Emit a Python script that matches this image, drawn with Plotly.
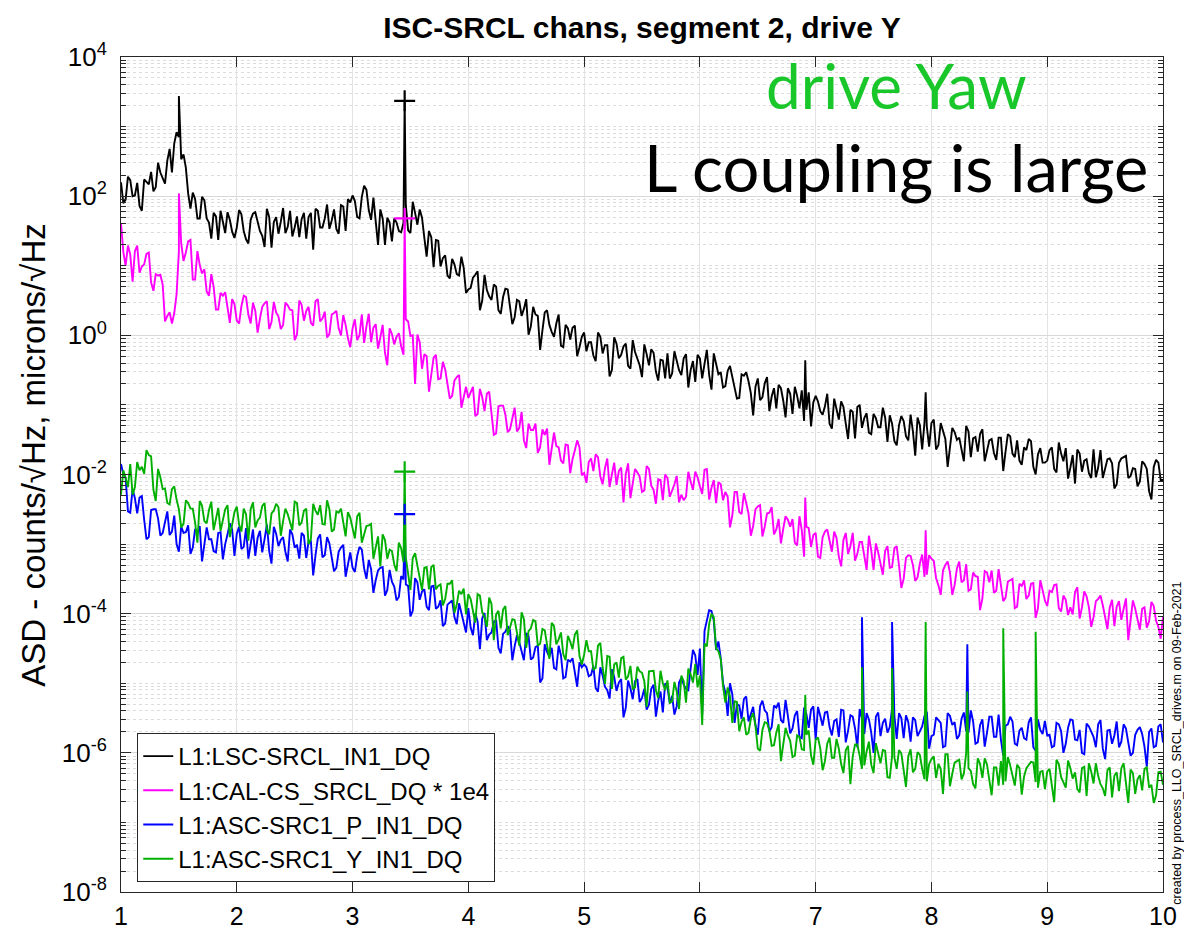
import numpy as np
import plotly.graph_objects as go

# frequency grids (Hz): main points every 0.04 Hz and in-between points
freq = np.round(np.arange(0, 226) * 0.04 + 1.0, 2)
freq_mid = np.round(np.arange(0, 225) * 0.04 + 1.02, 2)

# log10 ASD values (one row per Hz)
black_log = [
    2.20,1.95,2.23,2.01,1.86,2.24,2.17,2.07,2.48,2.27,2.51,2.34,2.92,2.53,2.41,1.82,1.96,1.68,1.94,1.62,1.76,1.37,1.65,1.77,1.49,
    1.55,1.74,1.38,1.66,1.77,1.50,1.27,1.70,1.63,1.46,1.83,1.56,1.42,1.71,1.67,1.39,1.76,1.82,1.55,1.68,1.53,1.81,1.46,1.85,1.96,
    2.01,1.70,1.99,2.09,1.66,1.68,1.81,1.30,1.62,1.68,1.50,1.62,1.51,1.92,1.59,1.69,1.13,1.41,1.37,0.99,1.15,0.82,1.02,0.86,0.97,
    0.66,0.83,0.92,0.50,0.65,0.51,0.70,0.31,0.67,0.43,0.26,0.49,0.38,0.01,0.41,0.28,0.07,0.36,0.05,0.17,-0.15,0.15,-0.06,0.14,-0.17,
    0.04,-0.10,-0.29,0.04,-0.26,-0.14,-0.50,-0.12,-0.28,-0.12,-0.48,-0.24,-0.43,-0.13,-0.43,-0.25,-0.65,-0.36,-0.26,-0.55,-0.35,-0.57,-0.27,-0.50,-0.67,
    -0.33,-0.41,-0.57,-0.26,-0.56,-0.75,-0.51,-0.59,-0.91,-0.56,-0.53,-0.83,-0.74,-0.93,-0.69,-1.09,-0.76,-0.71,-0.94,-0.76,-1.13,-0.87,-0.79,-1.07,-1.31,
    -0.87,-1.09,-1.02,-1.27,-0.91,-1.21,-1.03,-1.49,-1.10,-1.03,-1.33,-1.12,-1.42,-1.19,-1.32,-1.18,-1.15,-1.52,-1.29,-1.23,-1.51,-1.38,-1.18,-1.64,-1.31,
    -1.26,-1.64,-1.26,-1.49,-1.64,-1.39,-1.47,-1.81,-1.38,-1.48,-1.67,-1.35,-1.64,-1.49,-1.79,-1.47,-1.67,-1.45,-1.75,-1.80,-1.61,-1.49,-1.89,-1.71,-1.83,
    -1.80,-1.61,-1.97,-1.70,-1.62,-1.90,-2.13,-1.70,-1.80,-1.98,-1.64,-1.90,-2.05,-1.78,-1.84,-2.14,-1.77,-1.73,-2.02,-1.92,-2.10,-1.85,-2.24,-1.89,-1.83,-2.08,
]
black_mid = [
    1.90,2.28,2.00,2.19,1.79,2.20,2.35,2.13,2.34,2.18,2.68,2.76,2.85,2.60,2.04,2.05,1.68,1.99,1.68,1.39,1.71,1.79,1.47,1.66,1.40,
    1.80,1.50,1.32,1.75,1.64,1.43,1.82,1.26,1.70,1.63,1.47,1.79,1.55,1.41,1.76,1.70,1.23,1.79,1.55,1.88,1.65,1.53,1.87,1.50,1.91,
    1.93,1.68,2.15,1.80,1.98,1.30,1.68,1.69,1.35,1.62,1.48,1.87,1.47,1.76,1.81,1.40,1.50,0.98,1.36,1.11,0.86,1.10,0.88,1.13,0.61,
    0.68,0.87,0.36,0.87,0.56,0.73,0.36,0.55,0.66,0.16,0.51,0.28,0.52,0.13,0.30,-0.21,0.33,0.15,-0.02,0.30,-0.17,0.10,0.11,-0.30,-0.02,
    -0.23,-0.10,-0.37,-0.02,-0.14,-0.59,-0.03,-0.33,-0.16,-0.44,-0.07,-0.35,-0.60,-0.27,-0.20,-0.52,-0.35,-0.62,-0.62,-0.23,-0.50,-0.33,-0.75,-0.37,-0.28,
    -0.62,-0.21,-0.78,-0.40,-0.53,-0.73,-0.44,-0.72,-0.90,-0.58,-0.66,-1.15,-0.62,-0.89,-0.60,-0.88,-1.05,-0.76,-1.18,-0.84,-0.74,-1.05,-1.23,-0.82,-0.96,
    -0.95,-1.14,-0.84,-1.34,-1.06,-0.95,-1.27,-1.07,-1.48,-1.00,-1.19,-1.40,-1.13,-1.32,-1.04,-1.53,-1.27,-1.58,-1.16,-1.45,-1.14,-1.73,-1.29,-1.25,-1.60,
    -1.21,-1.58,-1.39,-1.89,-1.33,-1.50,-1.64,-1.30,-1.75,-1.46,-1.42,-1.81,-1.51,-1.69,-1.47,-1.95,-1.42,-1.70,-1.51,-1.86,-1.65,-1.52,-2.00,-1.62,-1.83,
    -1.65,-1.92,-1.54,-1.81,-2.06,-1.72,-1.64,-1.96,-1.78,-2.05,-2.04,-1.65,-1.93,-1.77,-2.20,-1.83,-1.75,-2.05,-1.91,-2.17,-1.81,-1.92,-2.36,-1.79,-2.08,
]
magenta_log = [
    1.61,1.00,1.16,1.21,0.90,1.02,1.19,0.64,0.86,0.73,0.28,0.17,0.59,1.32,1.19,1.37,0.80,1.01,0.95,0.57,0.70,0.37,0.57,0.41,0.52,
    0.21,0.42,0.55,0.17,0.35,0.24,0.46,0.09,0.48,0.27,0.15,0.43,0.36,0.01,0.44,0.35,0.18,0.49,0.20,0.34,0.02,0.32,0.10,0.29,-0.04,
    0.10,-0.07,0.30,0.13,-0.10,0.16,-0.03,-0.25,0.10,-0.13,0.03,-0.28,0.20,0.00,0.01,-0.48,-0.30,-0.54,-0.28,-0.62,-0.49,-0.91,-0.65,-0.57,-0.89,
    -0.90,-0.74,-1.13,-0.89,-0.84,-1.15,-1.41,-1.01,-1.14,-1.35,-1.04,-1.33,-1.51,-1.27,-1.36,-1.69,-1.35,-1.34,-1.66,-1.59,-1.80,-1.57,-1.98,-1.65,-1.61,
    -1.98,-1.82,-1.95,-1.75,-2.14,-1.77,-2.00,-2.15,-1.90,-1.99,-2.34,-1.92,-2.03,-2.23,-1.92,-2.22,-2.07,-2.37,-2.05,-2.24,-2.02,-2.29,-2.32,-2.10,-1.96,
    -2.17,-1.93,-2.36,-2.08,-2.11,-2.37,-2.32,-2.59,-2.25,-2.57,-2.41,-2.88,-2.50,-2.44,-2.75,-2.55,-2.86,-2.64,-2.78,-2.65,-2.64,-3.02,-2.80,-2.75,-3.04,
    -2.84,-3.20,-2.82,-2.98,-2.82,-3.18,-2.94,-3.14,-2.84,-3.14,-2.97,-3.37,-3.09,-2.99,-3.29,-3.10,-3.34,-3.06,-3.31,-3.50,-3.16,-3.30,-3.48,-3.15,-3.44,
    -3.21,-3.49,-3.73,-3.30,-3.41,-3.59,-3.25,-3.52,-3.67,-3.41,-3.47,-3.78,-3.41,-3.38,-3.67,-3.58,-3.77,-3.52,-3.92,-3.57,-3.52,-3.74,-3.56,-3.92,-3.66,
    -3.89,-3.69,-3.58,-3.97,-3.80,-3.91,-3.69,-4.07,-3.68,-3.91,-4.05,-3.79,-3.88,-4.22,-3.80,-3.90,-4.09,-3.78,-4.07,-3.93,-4.23,-3.91,-4.11,-3.89,-4.19,-4.05,
]
magenta_mid = [
    1.20,1.29,0.77,1.29,0.99,1.17,0.76,0.88,0.87,0.20,0.33,0.32,1.20,1.07,1.35,0.80,1.21,0.89,0.63,0.88,0.37,0.61,0.62,0.18,0.45,
    0.17,0.57,0.30,0.47,0.04,0.41,0.49,0.19,0.33,0.09,0.47,0.37,-0.07,0.50,0.21,0.41,0.14,0.52,0.24,-0.03,0.30,0.35,0.00,0.15,-0.17,
    0.23,0.00,-0.11,0.31,0.11,-0.19,0.15,-0.43,0.02,-0.02,-0.16,0.23,-0.01,-0.70,-0.10,-0.27,-0.81,-0.32,-0.63,-0.38,-0.68,-0.87,-0.60,-1.04,-0.74,
    -0.82,-1.16,-0.77,-1.09,-0.81,-1.43,-1.02,-1.01,-1.39,-1.17,-1.38,-1.10,-1.62,-1.36,-1.27,-1.61,-1.43,-1.86,-1.40,-1.61,-1.84,-1.58,-1.78,-1.51,-2.01,
    -2.12,-1.77,-1.71,-2.03,-1.91,-2.18,-1.83,-1.95,-2.40,-1.84,-2.14,-1.97,-2.25,-1.88,-2.16,-2.42,-2.08,-2.00,-2.32,-2.14,-2.40,-2.37,-1.96,-2.22,-2.04,
    -2.28,-1.92,-2.19,-2.41,-2.14,-2.25,-2.76,-2.25,-2.54,-2.27,-2.56,-2.74,-2.46,-2.89,-2.56,-2.47,-2.79,-2.99,-2.60,-2.75,-2.98,-2.60,-3.18,-2.77,-2.87,
    -3.18,-2.90,-2.79,-3.11,-2.91,-3.32,-2.84,-3.03,-3.24,-2.97,-3.16,-2.88,-3.37,-3.12,-3.44,-3.03,-3.33,-3.03,-3.63,-3.20,-3.17,-3.53,-3.28,-3.47,-3.16,
    -3.24,-3.59,-3.38,-3.25,-3.73,-3.35,-3.55,-3.29,-3.65,-3.46,-3.95,-3.39,-3.55,-3.70,-3.36,-3.82,-3.54,-3.50,-3.90,-3.60,-3.79,-3.57,-4.06,-3.52,-3.81,
    -3.67,-3.59,-3.92,-3.74,-4.02,-4.01,-3.62,-3.91,-3.75,-4.19,-3.82,-3.74,-4.05,-3.91,-4.18,-3.82,-3.93,-4.38,-3.81,-4.11,-3.93,-4.20,-3.83,-4.10,-4.36,
]
blue_log = [
    -1.85,-2.05,-2.55,-2.34,-2.33,-2.65,-2.90,-2.50,-2.63,-2.84,-2.53,-2.82,-3.00,-2.75,-2.83,-3.14,-2.78,-2.74,-3.03,-2.93,-3.10,-2.84,-3.22,-2.86,-2.79,
    -2.85,-3.07,-2.77,-3.00,-3.17,-2.81,-2.93,-3.10,-2.75,-3.03,-2.90,-3.25,-2.86,-3.01,-2.84,-3.20,-2.96,-3.16,-2.86,-3.16,-2.99,-3.39,-3.11,-3.01,-3.30,
    -3.34,-3.17,-3.08,-3.50,-3.36,-3.52,-3.34,-3.74,-3.37,-3.61,-3.76,-3.51,-3.60,-3.96,-3.55,-3.68,-3.90,-3.61,-3.93,-3.81,-4.14,-3.84,-4.05,-3.85,-4.16,
    -3.92,-4.31,-4.11,-4.07,-4.38,-4.27,-4.09,-4.57,-4.26,-4.24,-4.47,-4.41,-4.67,-4.32,-4.63,-4.46,-4.93,-4.55,-4.49,-4.80,-4.60,-4.91,-4.69,-4.83,-4.70,
    -4.73,-4.90,-4.75,-5.12,-4.89,-5.10,-4.80,-5.11,-4.94,-5.35,-5.07,-4.97,-5.27,-5.08,-5.31,-5.02,-5.25,-5.42,-5.06,-5.18,-5.33,-4.92,-5.08,-4.79,-4.60,
    -4.50,-4.25,-3.95,-4.10,-4.40,-5.00,-5.47,-5.16,-5.30,-5.51,-5.19,-5.45,-5.60,-5.33,-5.39,-5.69,-5.32,-5.28,-5.57,-5.47,-5.65,-5.40,-5.79,-5.44,-5.38,
    -5.81,-5.47,-5.42,-5.63,-5.54,-5.77,-5.39,-5.68,-5.48,-5.92,-5.51,-5.43,-5.71,-5.48,-5.76,-5.51,-5.63,-5.47,-5.43,-5.79,-5.56,-5.49,-5.76,-5.62,-5.41,
    -5.76,-5.49,-5.57,-5.90,-5.47,-5.56,-5.75,-5.42,-5.71,-5.55,-5.85,-5.52,-5.71,-5.48,-5.77,-5.81,-5.61,-5.48,-5.87,-5.68,-5.79,-5.56,-5.92,-5.52,-5.73,
    -5.75,-5.92,-5.57,-5.69,-5.87,-5.52,-5.81,-5.67,-6.02,-5.62,-5.77,-5.59,-5.94,-5.68,-5.87,-5.55,-5.84,-5.65,-6.04,-5.74,-5.63,-5.91,-5.70,-5.92,-5.62,-5.85,
]
blue_mid = [
    -2.00,-2.53,-2.21,-2.56,-2.31,-2.93,-2.51,-2.50,-2.88,-2.66,-2.87,-2.59,-3.11,-2.84,-2.73,-3.05,-2.85,-3.25,-2.76,-2.93,-3.12,-2.83,-3.00,-2.70,-3.17,
    -2.75,-3.04,-3.21,-2.79,-2.91,-3.12,-2.72,-3.28,-2.85,-2.94,-3.11,-2.79,-3.05,-3.21,-2.88,-2.96,-3.45,-2.92,-3.19,-2.90,-3.17,-3.34,-3.05,-3.47,-3.12,
    -3.40,-3.04,-3.35,-3.23,-3.70,-3.38,-3.33,-3.66,-3.54,-3.81,-3.46,-3.58,-4.04,-3.49,-3.80,-3.65,-3.95,-3.60,-3.90,-4.18,-3.87,-3.81,-4.15,-3.99,-4.27,
    -4.20,-4.00,-4.51,-3.99,-4.30,-4.12,-4.49,-4.29,-4.18,-4.67,-4.31,-4.53,-4.28,-4.66,-4.48,-4.99,-4.44,-4.62,-4.78,-4.46,-4.93,-4.66,-4.64,-5.05,-4.77,
    -4.77,-4.88,-5.07,-4.77,-5.05,-5.22,-4.91,-4.99,-5.49,-4.96,-5.23,-4.94,-5.21,-5.38,-5.08,-5.48,-5.12,-5.00,-5.29,-5.45,-4.99,-5.02,-5.10,-4.52,-4.88,
    -5.45,-4.11,-3.96,-4.52,-4.64,-5.13,-5.00,-5.57,-5.32,-5.23,-5.55,-5.34,-5.74,-5.25,-5.43,-5.63,-5.35,-5.53,-5.24,-5.72,-5.46,-5.77,-5.35,-5.64,-5.33,
    -5.34,-5.61,-5.41,-5.75,-5.52,-5.38,-5.85,-5.46,-5.65,-5.37,-5.73,-5.52,-6.00,-5.42,-5.57,-5.71,-5.36,-5.80,-5.50,-5.46,-5.84,-5.53,-5.70,-5.47,-5.94,
    -5.74,-5.53,-5.92,-5.43,-5.60,-5.80,-5.51,-5.69,-5.39,-5.87,-5.60,-5.91,-5.48,-5.77,-5.45,-6.04,-5.59,-5.55,-5.89,-5.64,-5.81,-5.49,-5.97,-5.67,-5.54,
    -5.74,-5.90,-5.59,-6.00,-5.64,-5.53,-5.82,-6.00,-5.58,-5.71,-5.92,-5.53,-6.09,-5.67,-5.75,-5.92,-5.59,-5.85,-6.00,-5.67,-5.73,-6.20,-5.65,-5.90,-5.59,
]
green_log = [
    -2.29,-2.05,-1.85,-2.18,-1.94,-1.99,-1.72,-2.22,-1.92,-2.21,-2.41,-2.21,-2.36,-2.76,-2.37,-2.49,-2.69,-2.38,-2.67,-2.51,-2.80,-2.48,-2.67,-2.44,-2.72,
    -2.46,-2.82,-2.57,-2.50,-2.76,-2.62,-2.41,-2.86,-2.52,-2.47,-2.67,-2.57,-2.80,-2.41,-2.69,-2.49,-2.93,-2.52,-2.44,-2.72,-2.50,-2.79,-2.55,-2.68,-2.54,
    -2.77,-2.60,-2.98,-2.74,-2.71,-3.04,-3.32,-2.94,-3.08,-3.29,-2.98,-3.26,-3.44,-3.20,-3.31,-3.66,-3.33,-3.33,-3.65,-3.58,-3.79,-3.57,-3.99,-3.67,-3.64,
    -3.72,-3.98,-3.72,-3.98,-4.19,-3.86,-4.01,-4.21,-3.89,-4.20,-4.09,-4.46,-4.08,-4.25,-4.09,-4.46,-4.22,-4.43,-4.13,-4.44,-4.27,-4.67,-4.40,-4.30,-4.61,
    -4.59,-4.54,-4.80,-4.46,-4.77,-4.61,-5.08,-4.70,-4.64,-4.95,-4.75,-5.06,-4.83,-4.97,-4.83,-4.82,-5.21,-5.00,-4.96,-5.26,-5.12,-4.89,-5.28,-4.87,-4.72,
    -4.89,-4.43,-4.15,-4.05,-4.54,-5.04,-5.06,-5.57,-5.27,-5.55,-5.74,-5.51,-5.61,-5.97,-5.56,-5.68,-5.89,-5.59,-5.89,-5.75,-6.06,-5.75,-5.95,-5.74,-6.04,
    -5.81,-5.94,-6.12,-5.78,-6.07,-5.94,-6.29,-5.90,-6.05,-5.88,-6.23,-5.98,-6.17,-5.86,-6.15,-5.97,-6.36,-6.07,-5.96,-6.25,-6.05,-6.28,-5.99,-6.23,-6.41,
    -6.09,-6.36,-6.23,-6.02,-6.48,-6.14,-6.10,-6.30,-6.22,-6.45,-6.08,-6.36,-6.17,-6.61,-6.21,-6.12,-6.41,-6.18,-6.47,-6.22,-6.34,-6.18,-6.14,-6.50,-6.26,
    -6.27,-6.44,-6.10,-6.35,-6.50,-6.22,-6.28,-6.57,-6.20,-6.15,-6.44,-6.33,-6.51,-6.25,-6.64,-6.28,-6.22,-6.43,-6.24,-6.59,-6.32,-6.23,-6.50,-6.72,-6.28,-6.46,
]
green_mid = [
    -1.94,-2.18,-2.29,-1.82,-1.89,-1.65,-1.74,-2.38,-2.04,-2.20,-2.43,-2.17,-2.50,-2.71,-2.41,-2.49,-2.98,-2.45,-2.70,-2.39,-2.65,-2.81,-2.50,-2.90,-2.54,
    -2.72,-2.49,-2.95,-2.40,-2.66,-2.45,-2.79,-2.56,-2.42,-2.88,-2.49,-2.67,-2.39,-2.73,-2.52,-3.00,-2.42,-2.58,-2.71,-2.37,-2.82,-2.53,-2.49,-2.89,-2.62,
    -2.92,-2.55,-2.85,-2.73,-3.21,-2.89,-2.86,-3.21,-3.10,-3.39,-3.06,-3.19,-3.66,-3.13,-3.47,-3.34,-3.65,-3.30,-3.60,-3.88,-3.57,-3.52,-3.87,-3.72,-4.01,
    -3.79,-4.13,-3.74,-4.05,-3.77,-4.38,-3.96,-3.94,-4.31,-4.08,-4.28,-3.98,-4.49,-4.21,-4.11,-4.43,-4.24,-4.65,-4.18,-4.37,-4.58,-4.32,-4.51,-4.24,-4.73,
    -4.38,-4.54,-4.78,-4.42,-5.01,-4.62,-4.73,-4.92,-4.62,-4.90,-5.08,-4.76,-4.85,-5.34,-4.82,-5.10,-4.82,-5.10,-5.28,-4.98,-5.37,-4.97,-4.79,-4.99,-5.06,
    -5.60,-4.47,-4.00,-4.50,-4.65,-5.28,-5.19,-5.26,-5.69,-5.49,-5.71,-5.43,-5.94,-5.67,-5.57,-5.90,-5.71,-6.12,-5.64,-5.83,-6.04,-5.77,-5.96,-5.68,-6.17,
    -5.78,-6.25,-5.87,-6.07,-5.80,-6.16,-5.96,-6.45,-5.88,-6.04,-6.18,-5.84,-6.29,-6.00,-5.96,-6.35,-6.05,-6.23,-6.01,-6.49,-5.95,-6.23,-6.03,-6.38,-6.16,
    -6.05,-6.16,-6.59,-6.02,-6.30,-6.12,-6.38,-6.00,-6.26,-6.51,-6.16,-6.08,-6.39,-6.21,-6.47,-6.46,-6.06,-6.34,-6.17,-6.60,-6.22,-6.13,-6.42,-6.27,-6.52,
    -6.23,-6.71,-6.16,-6.42,-6.11,-6.37,-6.52,-6.22,-6.62,-6.27,-6.15,-6.45,-6.62,-6.21,-6.33,-6.55,-6.15,-6.72,-6.29,-6.38,-6.54,-6.21,-6.46,-6.61,-6.27,
]

# narrow spectral lines (frequency, log10 peak)
black_line_f = [1.50, 3.45, 6.91, 7.95]
black_line_v = [3.44, 3.37, -0.36, -0.82]
magenta_line_f = [1.50, 3.45, 6.91, 7.95]
magenta_line_v = [2.04, 1.68, -2.33, -2.80]
blue_line_f = [3.45, 7.40, 7.66, 8.31]
blue_line_v = [-2.57, -4.05, -4.12, -4.44]
green_line_f = [3.45, 6.91, 7.40, 7.66, 7.95, 8.31, 8.62, 8.90]
green_line_v = [-1.96, -5.17, -4.77, -4.78, -4.12, -5.12, -4.21, -4.26]

# drive-line markers (+)
drive_f = 3.45
drive_marks = {"black": 3.37, "magenta": 1.68, "blue": -2.57, "green": -1.96}

names = ["L1:LSC-SRCL_IN1_DQ", "L1:CAL-CS_SRCL_DQ * 1e4",
         "L1:ASC-SRC1_P_IN1_DQ", "L1:ASC-SRC1_Y_IN1_DQ"]
colors = {"black": "#000000", "magenta": "#ff00ff", "blue": "#0000ff", "green": "#00b000"}

series = [
    ("black", black_log, black_mid, black_line_f, black_line_v),
    ("magenta", magenta_log, magenta_mid, magenta_line_f, magenta_line_v),
    ("blue", blue_log, blue_mid, blue_line_f, blue_line_v),
    ("green", green_log, green_mid, green_line_f, green_line_v),
]

fig = go.Figure()
for (key, vals, mids, lf, lv), name in zip(series, names):
    assert len(vals) == len(freq), (key, "main", len(vals))
    assert len(mids) == len(freq_mid), (key, "mid", len(mids))
    x = np.concatenate([freq, freq_mid, lf])
    y = np.concatenate([vals, mids, lv])
    order = np.argsort(x, kind="stable")
    fig.add_trace(go.Scatter(
        x=x[order], y=10 ** y[order], mode="lines", name=name,
        line=dict(color=colors[key], width=1.9),
    ))
for key in ["black", "magenta", "blue", "green"]:
    fig.add_trace(go.Scatter(
        x=[drive_f], y=[10 ** drive_marks[key]], mode="markers", showlegend=False,
        marker=dict(symbol="cross-thin", size=15, line=dict(color=colors[key], width=2.2)),
    ))

font_main = "Liberation Sans, Arial, Helvetica, sans-serif"
axis_col = "#262626"
ytv = [10.0 ** e for e in range(-8, 5, 2)]
ytt = ["10<sup>%d</sup>" % e for e in range(-8, 5, 2)]
minor_vals = [k * 10.0 ** e for e in range(-8, 4) for k in range(1, 10)
              if not (k == 1 and e % 2 == 0)]

fig.update_layout(
    width=1184, height=931,
    margin=dict(l=121, r=21, t=57, b=39, autoexpand=False),
    paper_bgcolor="white", plot_bgcolor="white",
    font=dict(family=font_main, color=axis_col),
    title=dict(text="<b>ISC-SRCL chans, segment 2, drive Y</b>", x=0.5422, xanchor="center",
               y=0.970, yanchor="middle", font=dict(size=30, color="#000000", family=font_main)),
    showlegend=True,
    legend=dict(x=0.0156, y=0.012, xanchor="left", yanchor="bottom",
                bordercolor=axis_col, borderwidth=1, bgcolor="white",
                font=dict(size=24, color="#000000", family=font_main),
                tracegroupgap=0),
    xaxis=dict(range=[1, 10], tickmode="array", tickvals=list(range(1, 11)),
               automargin=False,
               ticks="inside", ticklen=10, tickcolor=axis_col, mirror="ticks",
               showline=True, linecolor=axis_col, linewidth=1,
               showgrid=True, gridcolor="#e3e3e3", gridwidth=1, zeroline=False,
               tickfont=dict(size=25, color="#000000"), ticklabelstandoff=2),
    yaxis=dict(type="log", range=[-8, 4], tickmode="array", tickvals=ytv, ticktext=ytt,
               automargin=False,
               ticks="inside", ticklen=10, tickcolor=axis_col, mirror="ticks",
               showline=True, linecolor=axis_col, linewidth=1,
               showgrid=True, gridcolor="#d8d8d8", gridwidth=1, zeroline=False,
               tickfont=dict(size=26, color="#000000"), ticklabelstandoff=8,
               minor=dict(tickmode="array", tickvals=minor_vals, ticks="inside", ticklen=5,
                          tickcolor=axis_col, showgrid=True, gridcolor="#dcdcdc",
                          griddash="dot", gridwidth=1)),
    annotations=[
        dict(text="ASD - counts/√Hz, microns/√Hz", xref="paper", yref="paper",
             x=-0.084, y=0.523, xanchor="center", yanchor="middle", textangle=-90,
             showarrow=False, font=dict(size=33, color="#000000", family=font_main)),
        dict(text="drive Yaw", xref="paper", yref="paper", x=0.744, y=0.967,
             xanchor="center", yanchor="middle",
             showarrow=False, font=dict(size=62, color="#19c72a", family="Lato")),
        dict(text="L coupling is large", xref="paper", yref="paper", x=0.744, y=0.868,
             xanchor="center", yanchor="middle",
             showarrow=False, font=dict(size=65, color="#000000", family="Lato")),
        dict(text="created by process_LLO_SRCL_drives.m on 09-Feb-2021", xref="paper",
             yref="paper", x=1.0126, y=-0.018, xanchor="center", yanchor="bottom",
             textangle=-90, showarrow=False,
             font=dict(size=12.5, color="#000000", family=font_main)),
    ],
)

fig.write_html("out.html")
